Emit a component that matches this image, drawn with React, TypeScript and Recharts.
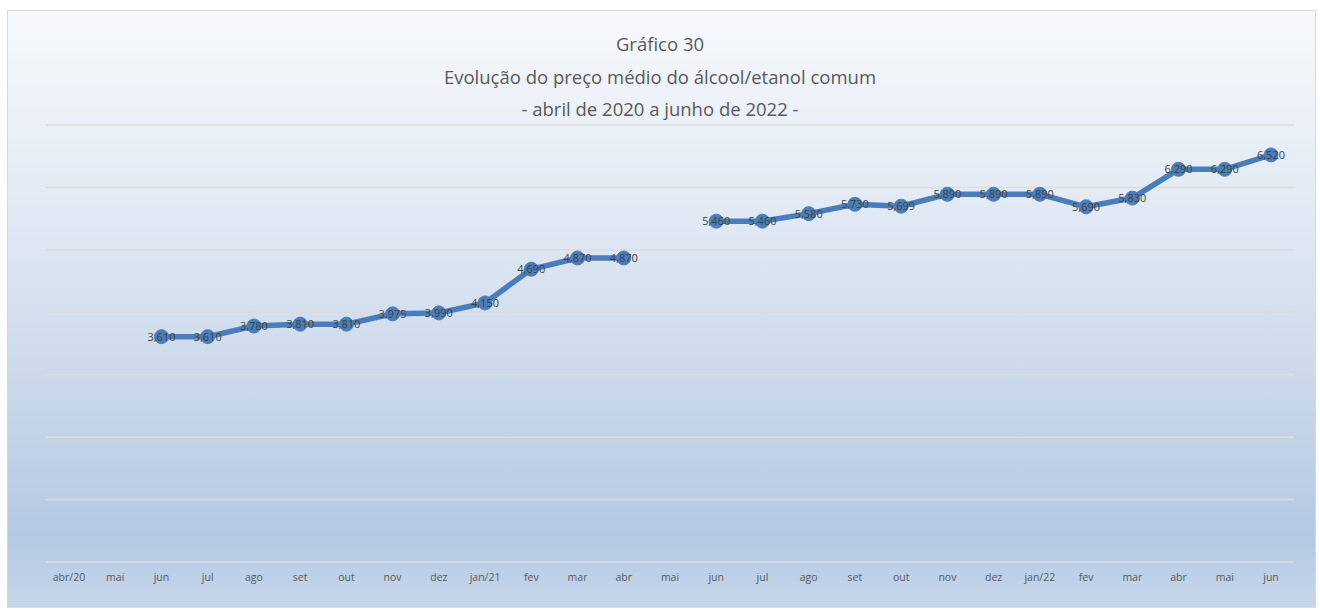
import React from "react";
import { LineChart, Line, XAxis, YAxis, CartesianGrid, LabelList } from "recharts";

const months = [
  "abr/20", "mai", "jun", "jul", "ago", "set", "out", "nov", "dez",
  "jan/21", "fev", "mar", "abr", "mai", "jun", "jul", "ago", "set",
  "out", "nov", "dez", "jan/22", "fev", "mar", "abr", "mai", "jun",
];

const precos: (number | null)[] = [
  null, null, 3.61, 3.61, 3.78, 3.81, 3.81, 3.975, 3.99,
  4.15, 4.69, 4.87, 4.87, null, 5.46, 5.46, 5.58, 5.73,
  5.699, 5.89, 5.89, 5.89, 5.69, 5.83, 6.29, 6.29, 6.52,
];

const yTicks = [0, 1, 2, 3, 4, 5, 6, 7];

const titleLines = [
  "Gráfico 30",
  "Evolução do preço médio do álcool/etanol comum",
  "- abril de 2020 a junho de 2022 -",
];

const data = months.map((m, i) => ({ key: i, mes: m, preco: precos[i] }));

const fmt = (v: any) => (v == null ? "" : Number(v).toFixed(3).replace(".", ","));

export default function App() {
  return (
    <div style={{ position: "absolute", left: 0, top: 0, width: 1320, height: 610, background: "#fff" }}>
      <div
        style={{
          position: "absolute",
          left: 7,
          top: 10,
          width: 1307,
          height: 596,
          border: "1px solid #d9d9d9",
          background: "linear-gradient(180deg, #f7f9fc 0%, #dde6f2 40%, #b4c9e2 88%, #c6d6ea 100%)",
        }}
      />
      <div
        style={{
          position: "absolute",
          left: 0,
          top: 28,
          width: 1320,
          textAlign: "center",
          fontFamily: "'Open Sans', sans-serif",
          fontSize: 18.5,
          color: "#595959",
          lineHeight: "32.5px",
        }}
      >
        {titleLines.map((t) => (
          <div key={t}>{t}</div>
        ))}
      </div>
      <div style={{ position: "absolute", left: 0, top: 0 }}>
        <LineChart
          width={1320}
          height={610}
          data={data}
          margin={{ top: 125, right: 26, left: 46, bottom: 18 }}
        >
          <CartesianGrid vertical={false} stroke="#dcdcdc" strokeWidth={1.5} />
          <XAxis
            dataKey="key"
            tickFormatter={(i: number) => months[i]}
            interval={0}
            padding={{ left: 23, right: 23 }}
            axisLine={false}
            tickLine={false}
            tickMargin={6}
            height={30}
            tick={{ fontSize: 10.5, fill: "#595959", fontFamily: "'Open Sans', sans-serif" }}
          />
          <YAxis hide domain={[0, 7]} ticks={yTicks} />
          <Line
            type="linear"
            dataKey="preco"
            stroke="#4a7ebb"
            strokeWidth={5.5}
            dot={{ r: 7, fill: "#4a7ebb", stroke: "#4a7ebb", strokeWidth: 1 }}
            isAnimationActive={false}
          >
            <LabelList
              dataKey="preco"
              position="center"
              formatter={fmt}
              style={{ fontSize: 11, fill: "#404040", fontFamily: "'Open Sans', sans-serif" }}
            />
          </Line>
        </LineChart>
      </div>
    </div>
  );
}
